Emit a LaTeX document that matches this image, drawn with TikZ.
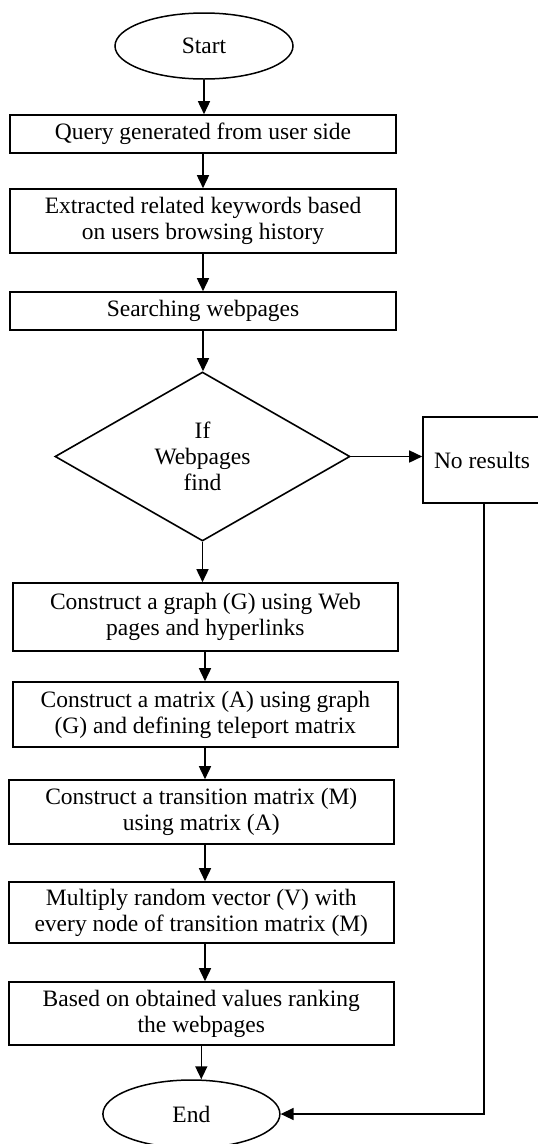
\documentclass[tikz,border=0pt]{standalone}
\usepackage{fontspec}
\setmainfont{Liberation Serif}
\usetikzlibrary{shapes.geometric,arrows.meta}

\tikzset{
  every node/.style={font=\fontsize{23.5}{26}\selectfont, align=center, inner sep=0pt},
  flowline/.style={line width=1.6pt, draw=black},
  arr/.style={flowline, -{Triangle[length=13pt,width=12pt]}},
  terminal/.style={ellipse, draw, line width=1.5pt, minimum width=178pt, minimum height=66pt},
  procbox/.style={rectangle, draw, line width=1.6pt, minimum width=386pt},
  decision/.style={diamond, draw, line width=1.6pt, minimum width=295pt, minimum height=169pt}
}

\begin{document}
\begin{tikzpicture}[x=1pt, y=-1pt]
  \useasboundingbox (0,0) rectangle (538,1144);

  % main column
  \node[terminal] (start) at (204,46) {Start};
  \node[procbox, minimum height=38pt] (q) at (203,134) {Query generated from user side};
  \node[procbox, minimum height=64pt] (kw) at (203,221) {Extracted related keywords based\\on users browsing history};
  \node[procbox, minimum height=38pt] (srch) at (203,311) {Searching webpages};
  \node[decision] (dec) at (202.5,456.5) {\fontsize{23.5}{27}\selectfont If\\Webpages\\find};
  \node[rectangle, draw, line width=1.6pt, minimum width=118pt, minimum height=86pt] (nores) at (482,460) {No results};
  \node[procbox, minimum width=385pt, minimum height=68pt] (g) at (205.4,617) {Construct a graph (G) using Web\\pages and hyperlinks};
  \node[procbox, minimum width=385pt, minimum height=65pt] (a) at (205.4,714.5) {Construct a matrix (A) using graph\\(G) and defining teleport matrix};
  \node[procbox, minimum width=385pt, minimum height=64pt] (m) at (201.3,812) {Construct a transition matrix (M)\\using matrix (A)};
  \node[procbox, minimum width=385pt, minimum height=61pt] (v) at (201.3,912.5) {Multiply random vector (V) with\\every node of transition matrix (M)};
  \node[procbox, minimum width=385pt, minimum height=63pt] (rank) at (201.3,1013.5) {Based on obtained values ranking\\the webpages};
  \node[terminal, minimum width=177pt, minimum height=68pt] (end) at (191.4,1114) {End};

  \coordinate (spine) at (205,0);

  % connectors
  \draw[arr] (start.south) -- (start.south |- q.north);
  \draw[arr] (q.south) -- (kw.north);
  \draw[arr] (kw.south) -- (srch.north);
  \draw[arr] (srch.south) -- (srch.south |- dec.north);
  \draw[arr] (dec.south) -- (dec.south |- g.north);
  \draw[arr] (dec.east) -- (dec.east -| nores.west);
  \draw[arr] (g.south -| spine) -- (a.north -| spine);
  \draw[arr] (a.south -| spine) -- (m.north -| spine);
  \draw[arr] (m.south -| spine) -- (v.north -| spine);
  \draw[arr] (v.south -| spine) -- (rank.north -| spine);
  \draw[arr] (rank.south) -- (rank.south |- end.north);
  \draw[arr] ([xshift=2pt]nores.south) |- (end.east);
\end{tikzpicture}
\end{document}
